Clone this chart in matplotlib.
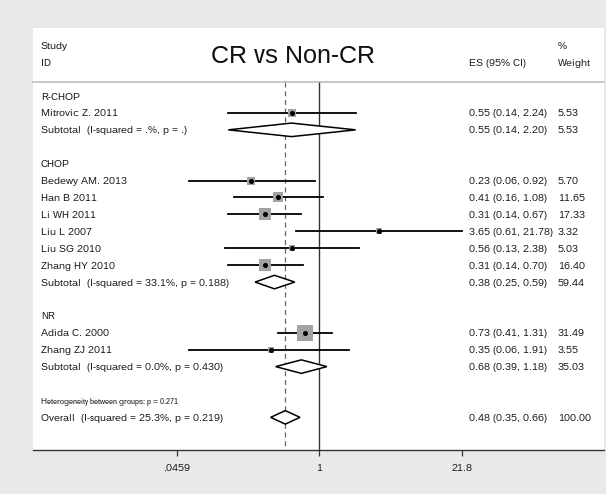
import numpy as np
import matplotlib
matplotlib.use('Agg')
import matplotlib.pyplot as plt
import matplotlib.transforms as mtransforms

plt.rcParams['font.family'] = ['Liberation Sans', 'DejaVu Sans']
plt.rcParams['text.hinting'] = 'native'
plt.rcParams['text.hinting_factor'] = 1

# 数据
groups = ['R-CHOP', 'CHOP', 'NR']
studies = ['Mitrovic Z. 2011',
           'Bedewy AM. 2013', 'Han B 2011', 'Li WH 2011', 'Liu L 2007', 'Liu SG 2010', 'Zhang HY 2010',
           'Adida C. 2000', 'Zhang ZJ 2011']
study_group = [0, 1, 1, 1, 1, 1, 1, 2, 2]
es = [0.55, 0.23, 0.41, 0.31, 3.65, 0.56, 0.31, 0.73, 0.35]
lo = [0.14, 0.06, 0.16, 0.14, 0.61, 0.13, 0.14, 0.41, 0.06]
hi = [2.24, 0.92, 1.08, 0.67, 21.78, 2.38, 0.70, 1.31, 1.91]
weight = [5.53, 5.70, 11.65, 17.33, 3.32, 5.03, 16.40, 31.49, 3.55]

sub_es = [0.55, 0.38, 0.68]
sub_lo = [0.14, 0.25, 0.39]
sub_hi = [2.20, 0.59, 1.18]
sub_weight = [5.53, 59.44, 35.03]
sub_i2 = ['.%', '33.1%', '0.0%']
sub_p = ['.', '0.188', '0.430']

overall = [0.48, 0.35, 0.66, 100.00]
overall_i2 = '25.3%'
overall_p = '0.219'
het_p = '0.271'

ticks = [0.0459, 1, 21.8]
tick_labels = ['.0459', '1', '21.8']
title = 'CR vs Non-CR'

W, H = 606, 494
fig = plt.figure(figsize=(W / 100, H / 100), dpi=100, facecolor='#e9e9e9')
# 白色绘图区 (像素位置换算)
ax = fig.add_axes([33 / W, 1 - 450 / H, 571 / W, (450 - 27.7) / H], facecolor='white')

ax.set_xscale('log')
ax.set_xlim(np.exp(-6.189), np.exp(6.159))
ax.set_ylim(20.93, -4.04)

tc = '#151515'
fs = 7.15
trans = mtransforms.blended_transform_factory(ax.transAxes, ax.transData)
base = 0.21  # 文字基线偏移


def row_text(r, s, x=0.014, size=fs):
    ax.text(x, r + base, s, transform=trans, fontsize=size, color=tc, va='baseline', ha='left')


def diamond(r, e, l, h):
    ax.fill([l, e, h, e, l], [r, r - 0.4, r, r + 0.4, r], facecolor='white',
            edgecolor='black', lw=1.1, zorder=4)


# 表头
row_text(-2.98, 'Study')
row_text(-2.01, 'ID')
row_text(-2.01, 'ES (95% CI)', x=0.7636)
row_text(-2.98, '%', x=0.9194)
row_text(-2.01, 'Weight', x=0.9194)
ax.text(0.455, -1.97, title, transform=trans, fontsize=18.3, color='#111111', ha='center', va='baseline')
ax.plot([0, 1], [-0.81, -0.81], transform=trans, color='#bdbdbd', lw=1.2, clip_on=False)

# 参考线
ax.plot([1, 1], [-0.81, 20.93], color='#333333', lw=1.0, zorder=1)
ax.plot([overall[0], overall[0]], [-0.81, 20.93], color='#666666', lw=0.9, ls=(0, (4, 3)), zorder=1)

r = 0
for g in range(len(groups)):
    row_text(r, groups[g])
    r += 1
    for i in range(len(studies)):
        if study_group[i] != g:
            continue
        ax.plot([lo[i], hi[i]], [r, r], color='black', lw=1.3, zorder=2)
        ax.scatter([es[i]], [r], marker='s', s=4.67 * weight[i], color='#a3a3a3', lw=0, zorder=3)
        ax.plot([es[i]], [r], marker='o', ms=2.6, color='black', zorder=5)
        row_text(r, studies[i])
        row_text(r, '%.2f (%.2f, %.2f)' % (es[i], lo[i], hi[i]), x=0.7636)
        row_text(r, '%.2f' % weight[i], x=0.9194)
        r += 1
    diamond(r, sub_es[g], sub_lo[g], sub_hi[g])
    row_text(r, 'Subtotal  (I-squared = %s, p = %s)' % (sub_i2[g], sub_p[g]))
    row_text(r, '%.2f (%.2f, %.2f)' % (sub_es[g], sub_lo[g], sub_hi[g]), x=0.7636)
    row_text(r, '%.2f' % sub_weight[g], x=0.9194)
    r += 2

# 组间异质性 + 总体
row_text(r, 'Heterogeneity between groups: p = %s' % het_p, size=6.1)
r += 1
diamond(r, overall[0], overall[1], overall[2])
row_text(r, 'Overall  (I-squared = %s, p = %s)' % (overall_i2, overall_p))
row_text(r, '%.2f (%.2f, %.2f)' % (overall[0], overall[1], overall[2]), x=0.7636)
row_text(r, '%.2f' % overall[3], x=0.9194)

# 坐标轴
for s in ['top', 'left', 'right']:
    ax.spines[s].set_visible(False)
ax.spines['bottom'].set_color('#333333')
ax.spines['bottom'].set_linewidth(1.0)
ax.set_yticks([])
ax.set_xticks(ticks)
ax.set_xticklabels(tick_labels)
ax.xaxis.set_minor_locator(matplotlib.ticker.NullLocator())
ax.tick_params(axis='x', direction='out', length=4, width=0.9, color='#333333',
               labelsize=fs, labelcolor=tc, pad=6)

fig.savefig('out.png', dpi=100, facecolor=fig.get_facecolor())
